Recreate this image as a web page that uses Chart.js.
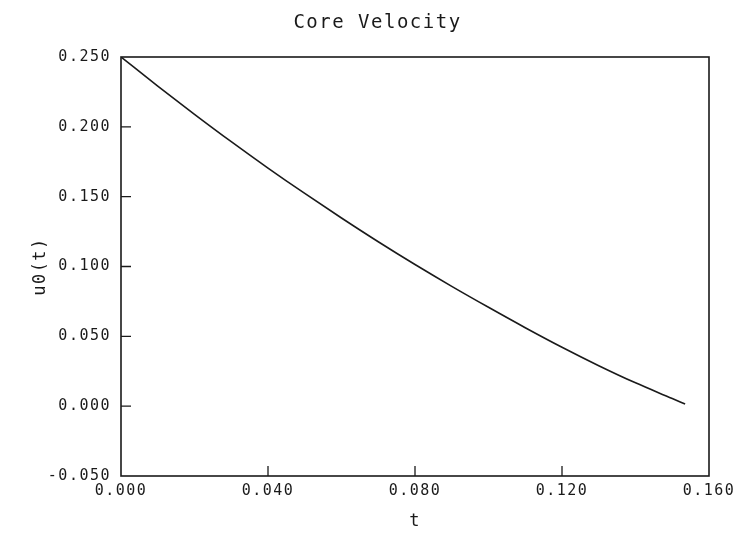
<!DOCTYPE html>
<html>
<head>
<meta charset="utf-8">
<script src="https://cdn.jsdelivr.net/npm/chart.js@4.4.1/dist/chart.umd.min.js"></script>
<style>
  html, body { margin: 0; padding: 0; background: #fff; }
  #wrap { width: 738px; height: 538px; }
</style>
</head>
<body>
<div id="wrap"><canvas id="c" width="738" height="538"></canvas></div>
<script>
'use strict';

// values
const tValues = [0, 0.01, 0.02, 0.03, 0.04, 0.05, 0.06, 0.07, 0.08, 0.09, 0.10, 0.11, 0.12, 0.13, 0.14, 0.15, 0.1535];
const u0Values = [0.250, 0.2292, 0.2090, 0.1894, 0.1705, 0.1523, 0.1347, 0.1177, 0.1014, 0.0858, 0.0708, 0.0562, 0.0422, 0.0290, 0.0167, 0.0055, 0.0015];
const xTicks = [0.000, 0.040, 0.080, 0.120, 0.160];
const yTicks = [-0.050, 0.000, 0.050, 0.100, 0.150, 0.200, 0.250];

const FONT = "'DejaVu Sans Mono', monospace";
const INK = '#1a1a1a';

// frame round the plot, plus short tick marks pointing inward
const frame = {
  id: 'frame',
  beforeDraw(chart) {
    chart.ctx.letterSpacing = '1.5px';
  },
  afterDatasetsDraw(chart) {
    const { ctx, chartArea: a, scales } = chart;
    ctx.save();
    ctx.strokeStyle = INK;
    ctx.lineWidth = 1.6;
    ctx.strokeRect(a.left, a.top, a.right - a.left, a.bottom - a.top);
    ctx.lineWidth = 1.3;
    ctx.beginPath();
    yTicks.slice(1, -1).forEach(v => {
      const y = scales.y.getPixelForValue(v);
      ctx.moveTo(a.left, y); ctx.lineTo(a.left + 10, y);
    });
    xTicks.slice(1, -1).forEach(v => {
      const x = scales.x.getPixelForValue(v);
      ctx.moveTo(x, a.bottom); ctx.lineTo(x, a.bottom - 10);
    });
    ctx.stroke();
    ctx.restore();
  }
};

new Chart(document.getElementById('c'), {
  type: 'line',
  data: {
    datasets: [{
      data: tValues.map((t, i) => ({ x: t, y: u0Values[i] })),
      borderColor: INK,
      borderWidth: 1.6,
      pointRadius: 0,
      cubicInterpolationMode: 'monotone',
      fill: false
    }]
  },
  options: {
    responsive: false,
    animation: false,
    layout: { padding: { left: 46, right: 29, top: 0, bottom: 0 } },
    plugins: {
      legend: { display: false },
      tooltip: { enabled: false },
      title: {
        display: true,
        text: 'Core Velocity',
        color: INK,
        font: { family: FONT, size: 19, weight: 'normal' },
        padding: { top: 12, bottom: 22.2 }
      }
    },
    scales: {
      x: {
        type: 'linear',
        min: 0, max: 0.16,
        afterBuildTicks(s) { s.ticks = xTicks.map(v => ({ value: v })); },
        afterFit(s) { s.height = 62; },
        grid: { display: false, drawTicks: false },
        border: { display: false },
        ticks: {
          padding: 6,
          color: INK,
          maxRotation: 0,
          font: { family: FONT, size: 15 },
          callback: v => v.toFixed(3)
        },
        title: {
          display: true,
          text: 't',
          color: INK,
          font: { family: FONT, size: 17 },
          padding: { top: 0, bottom: 6 }
        }
      },
      y: {
        type: 'linear',
        min: -0.05, max: 0.25,
        afterBuildTicks(s) { s.ticks = yTicks.map(v => ({ value: v })); },
        afterFit(s) { s.width = 75; },
        grid: { display: false, drawTicks: false },
        border: { display: false },
        ticks: {
          padding: 10,
          color: INK,
          font: { family: FONT, size: 15 },
          callback: v => v.toFixed(3)
        },
        title: {
          display: true,
          text: 'u0(t)',
          color: INK,
          font: { family: FONT, size: 17 },
          padding: { top: -16, bottom: 0 }
        }
      }
    }
  },
  plugins: [frame]
});
</script>
</body>
</html>
